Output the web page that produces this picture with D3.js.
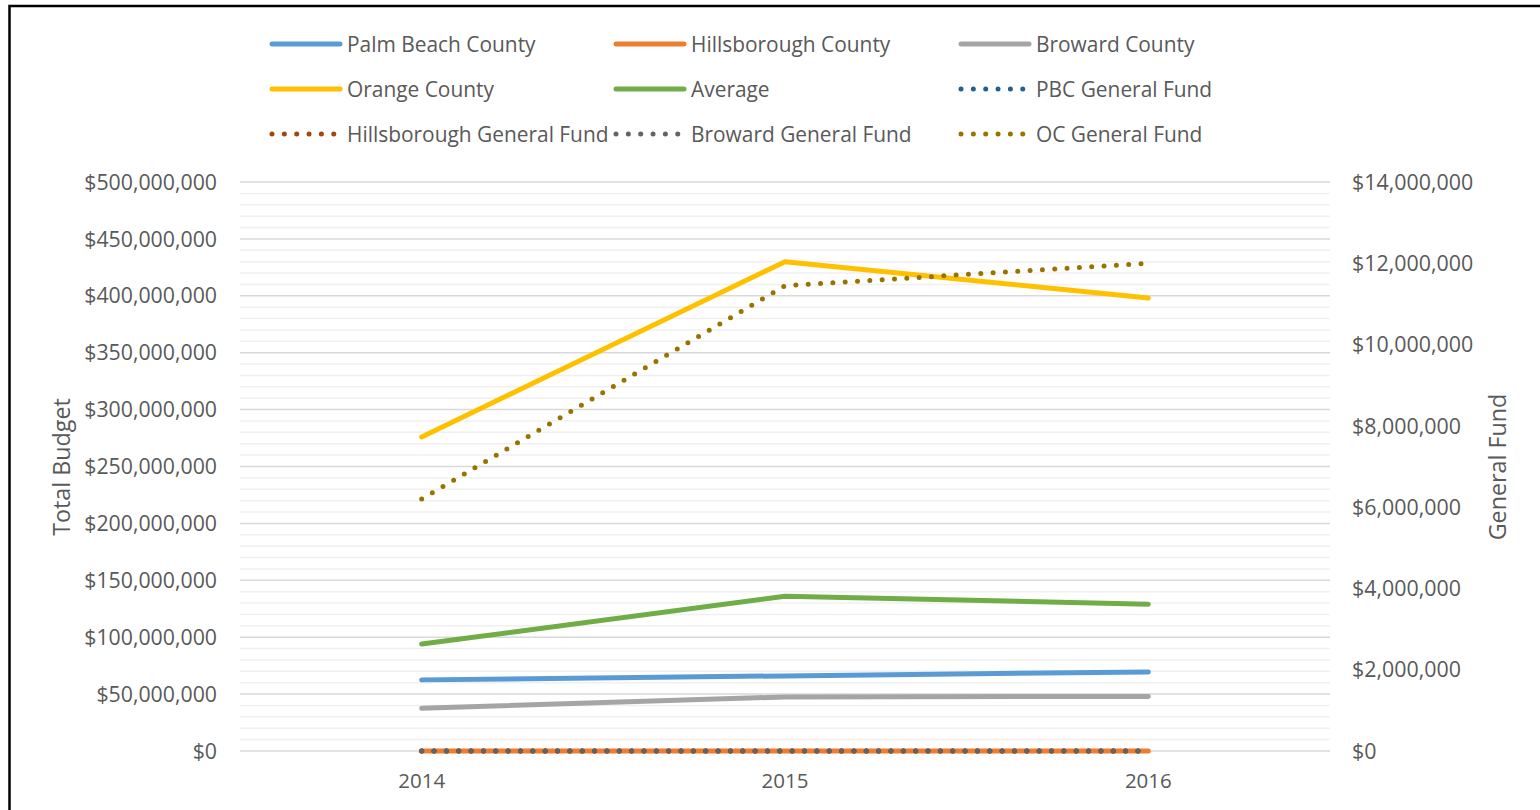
<!DOCTYPE html>
<html>
<head>
<meta charset="utf-8">
<script src="https://cdn.jsdelivr.net/npm/d3@7"></script>
<style>
  html, body { margin: 0; padding: 0; background: #fff; }
  svg { display: block; }
  text { font-family: "Open Sans", "Noto Sans", sans-serif; fill: #595959; }
</style>
</head>
<body>
<svg id="chart" width="1540" height="810"></svg>
<script>
// Budget data by year (total budget on left axis, general fund on right axis)
const years = ["2014", "2015", "2016"];
const palmBeach = [62.5e6, 66e6, 69.5e6];
const hillsborough = [0, 0, 0];
const broward = [37.5e6, 47.5e6, 48e6];
const orangeCounty = [276e6, 430e6, 398e6];
const average = [94e6, 136e6, 129e6];
const pbcGeneralFund = [0, 0, 0];
const hillsboroughGeneralFund = [0, 0, 0];
const browardGeneralFund = [0, 0, 0];
const ocGeneralFund = [6.2e6, 11.45e6, 12.0e6];

const leftTicks = d3.range(0, 500e6 + 1, 50e6);
const rightTicks = d3.range(0, 14e6 + 1, 2e6);

const series = [
  { name: "Palm Beach County", values: palmBeach, color: "#5B9BD5", axis: "L", dotted: false },
  { name: "Hillsborough County", values: hillsborough, color: "#ED7D31", axis: "L", dotted: false },
  { name: "Broward County", values: broward, color: "#A5A5A5", axis: "L", dotted: false },
  { name: "Orange County", values: orangeCounty, color: "#FFC000", axis: "L", dotted: false },
  { name: "Average", values: average, color: "#70AD47", axis: "L", dotted: false },
  { name: "PBC General Fund", values: pbcGeneralFund, color: "#255E91", axis: "R", dotted: true },
  { name: "Hillsborough General Fund", values: hillsboroughGeneralFund, color: "#9E480E", axis: "R", dotted: true },
  { name: "Broward General Fund", values: browardGeneralFund, color: "#636363", axis: "R", dotted: true },
  { name: "OC General Fund", values: ocGeneralFund, color: "#997300", axis: "R", dotted: true }
];

const svg = d3.select("#chart");
const plot = { left: 240, right: 1330, top: 182, bottom: 751 };

const x = d3.scalePoint().domain(years).range([plot.left, plot.right]).padding(0.5);
const yL = d3.scaleLinear().domain([0, 500e6]).range([plot.bottom, plot.top]);
const yR = d3.scaleLinear().domain([0, 14e6]).range([plot.bottom, plot.top]);

const money = v => "$" + d3.format(",")(v);

// Outer frame
svg.append("rect")
  .attr("x", 9.5).attr("y", 6).attr("width", 1600).attr("height", 900)
  .attr("fill", "none").attr("stroke", "#000").attr("stroke-width", 2.5);

// Minor gridlines every 10M, major every 50M
const minor = d3.range(0, 500e6 + 1, 10e6).filter(v => v % 50e6 !== 0);
svg.append("g").selectAll("line").data(minor).join("line")
  .attr("x1", plot.left).attr("x2", plot.right)
  .attr("y1", d => yL(d)).attr("y2", d => yL(d))
  .attr("stroke", "#f0f0f0").attr("stroke-width", 1.5);
svg.append("g").selectAll("line").data(leftTicks).join("line")
  .attr("x1", plot.left).attr("x2", plot.right)
  .attr("y1", d => yL(d)).attr("y2", d => yL(d))
  .attr("stroke", "#d9d9d9").attr("stroke-width", 1.5);

// Left axis labels
svg.append("g").selectAll("text").data(leftTicks).join("text")
  .attr("x", 217).attr("y", d => yL(d)).attr("dy", "0.36em")
  .attr("text-anchor", "end").style("font-size", "21.3px")
  .text(money);

// Right axis labels
svg.append("g").selectAll("text").data(rightTicks).join("text")
  .attr("x", 1352).attr("y", d => yR(d)).attr("dy", "0.36em")
  .attr("text-anchor", "start").style("font-size", "21.4px")
  .text(money);

// Category labels
svg.append("g").selectAll("text").data(years).join("text")
  .attr("x", d => x(d)).attr("y", 781).attr("dy", "0.36em")
  .attr("text-anchor", "middle").style("font-size", "20.5px")
  .text(d => d);

// Axis titles
svg.append("text")
  .attr("transform", "translate(62,467) rotate(-90)")
  .attr("dy", "0.36em").attr("text-anchor", "middle").style("font-size", "23.3px")
  .text("Total Budget");
svg.append("text")
  .attr("transform", "translate(1498,467) rotate(-90)")
  .attr("dy", "0.36em").attr("text-anchor", "middle").style("font-size", "23.3px")
  .text("General Fund");

// Series lines
const lines = svg.append("g");
series.forEach(s => {
  const yScale = s.axis === "L" ? yL : yR;
  const gen = d3.line().x((d, i) => x(years[i])).y(d => yScale(d));
  const p = lines.append("path")
    .attr("d", gen(s.values))
    .attr("fill", "none")
    .attr("stroke", s.color)
    .attr("stroke-width", 5)
    .attr("stroke-linecap", "round")
    .attr("stroke-linejoin", "round");
  if (s.dotted) p.attr("stroke-dasharray", "0 12.35");
});

// Legend: three columns, three rows
const legendCols = [272, 616, 961];
const legendRows = [44, 89, 134];
const legend = svg.append("g");
series.forEach((s, i) => {
  const lx = legendCols[i % 3];
  const ly = legendRows[Math.floor(i / 3)];
  const ln = legend.append("line")
    .attr("x1", lx).attr("x2", s.dotted ? lx + 62 : lx + 68)
    .attr("y1", ly).attr("y2", ly)
    .attr("stroke", s.color).attr("stroke-width", 5)
    .attr("stroke-linecap", "round");
  if (s.dotted) ln.attr("stroke-dasharray", "0 12.35");
  legend.append("text")
    .attr("x", lx + 75).attr("y", ly).attr("dy", "0.36em")
    .style("font-size", "20.9px")
    .text(s.name);
});
</script>
</body>
</html>
